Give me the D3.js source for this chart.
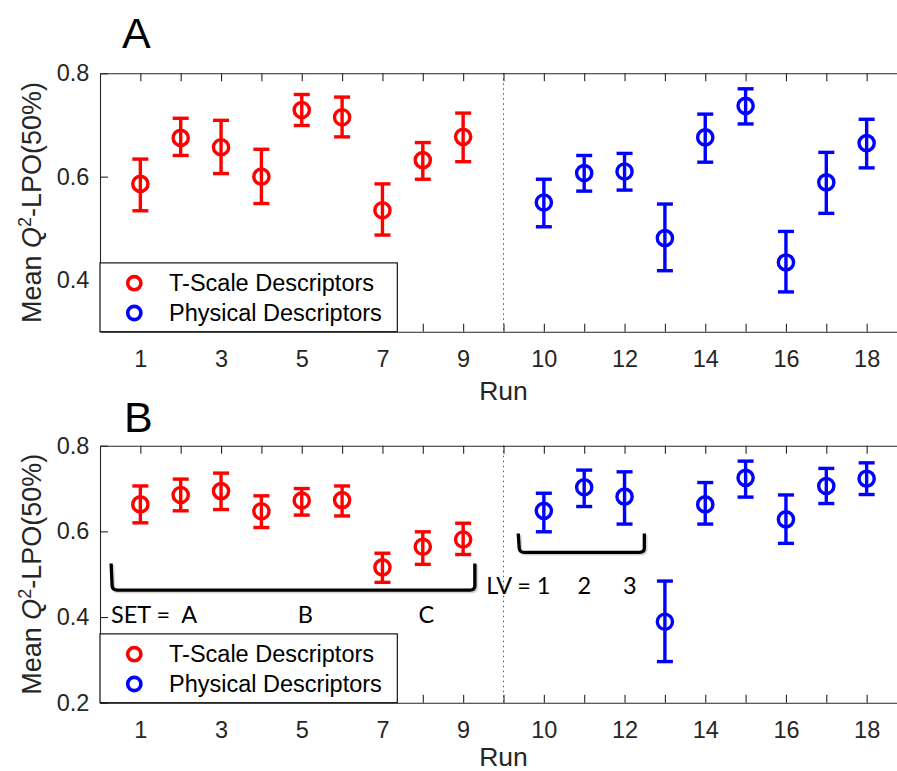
<!DOCTYPE html>
<html>
<head>
<meta charset="utf-8">
<script src="https://cdn.jsdelivr.net/npm/d3@7"></script>
<style>
  body { margin: 0; background: #fff; }
  svg { display: block; font-family: "Liberation Sans", Arial, sans-serif; }
</style>
</head>
<body>
<div id="app"></div>
<script>
// runs 1-9 use T-scale descriptors, runs 10-18 physical descriptors
const redRuns = [1, 2, 3, 4, 5, 6, 7, 8, 9];
const blueRuns = [10, 11, 12, 13, 14, 15, 16, 17, 18];

// axis slots: one empty slot between run 9 and run 10
const tickPos = d3.range(1, 20);
const tickLabels = ['1', '', '3', '', '5', '', '7', '', '9', '', '10', '', '12', '', '14', '', '16', '', '18'];

// panel A
const aRedMean = [0.586, 0.675, 0.657, 0.600, 0.729, 0.715, 0.535, 0.632, 0.677];
const aRedLo   = [0.534, 0.641, 0.606, 0.548, 0.699, 0.677, 0.487, 0.595, 0.629];
const aRedHi   = [0.634, 0.713, 0.709, 0.653, 0.759, 0.754, 0.586, 0.666, 0.723];
const aBlueMean = [0.550, 0.607, 0.610, 0.481, 0.676, 0.737, 0.434, 0.589, 0.665];
const aBlueLo   = [0.503, 0.572, 0.574, 0.418, 0.628, 0.702, 0.377, 0.529, 0.617];
const aBlueHi   = [0.595, 0.641, 0.645, 0.547, 0.721, 0.770, 0.494, 0.647, 0.711];

// panel B
const bRedMean = [0.663, 0.685, 0.694, 0.647, 0.672, 0.673, 0.516, 0.564, 0.581];
const bRedLo   = [0.620, 0.648, 0.651, 0.609, 0.638, 0.636, 0.481, 0.523, 0.546];
const bRedHi   = [0.706, 0.722, 0.736, 0.683, 0.700, 0.706, 0.549, 0.599, 0.619];
const bBlueMean = [0.648, 0.703, 0.681, 0.389, 0.663, 0.725, 0.628, 0.706, 0.723];
const bBlueLo   = [0.599, 0.658, 0.617, 0.296, 0.617, 0.680, 0.572, 0.665, 0.686];
const bBlueHi   = [0.689, 0.743, 0.739, 0.484, 0.714, 0.764, 0.685, 0.747, 0.760];

const legendLabels = ['T-Scale Descriptors', 'Physical Descriptors'];
const colors = ['#ff0000', '#0000ff'];

const w = 897;
const h = 771;
const axisColor = '#262626';

const svg = d3.select('#app')
  .append('svg')
  .attr('width', w)
  .attr('height', h);

const slot = (run) => run <= 9 ? run : run + 1;

function drawPanel(opt) {
  const x = d3.scaleLinear().domain([0, 20]).range([100, 907]);
  const y = d3.scaleLinear().domain(opt.yDomain).range([opt.bottom, opt.top]);
  const g = svg.append('g');

  // dotted divider between the two descriptor sets
  g.append('line')
    .attr('x1', x(10)).attr('x2', x(10))
    .attr('y1', opt.top).attr('y2', opt.bottom)
    .attr('stroke', '#555')
    .attr('stroke-width', 1)
    .attr('stroke-dasharray', '1.5,3.5');

  const xb = g.append('g')
    .attr('transform', 'translate(0,' + opt.bottom + ')')
    .call(d3.axisBottom(x).tickValues(tickPos).tickFormat((d, i) => tickLabels[i])
      .tickSizeInner(-8).tickSizeOuter(0).tickPadding(18.3));
  const xt = g.append('g')
    .attr('transform', 'translate(0,' + opt.top + ')')
    .call(d3.axisTop(x).tickValues(tickPos).tickFormat('')
      .tickSizeInner(-8).tickSizeOuter(0));
  const yl = g.append('g')
    .attr('transform', 'translate(100,0)')
    .call(d3.axisLeft(y).tickValues(opt.yTicks).tickFormat(d3.format('.1f'))
      .tickSizeInner(-8).tickSizeOuter(0).tickPadding(10.7));
  const yr = g.append('g')
    .attr('transform', 'translate(907,0)')
    .call(d3.axisRight(y).tickValues(opt.yTicks).tickFormat('')
      .tickSizeInner(-8).tickSizeOuter(0));

  [xb, xt, yl, yr].forEach((a) => {
    a.selectAll('path, line').attr('stroke', axisColor).attr('stroke-width', 1.1);
    a.selectAll('text').attr('fill', axisColor).style('font-size', '23.5px')
      .style('font-family', '"Liberation Sans", Arial, sans-serif');
  });

  // error bars + circles
  const series = [
    { runs: redRuns, mean: opt.redMean, lo: opt.redLo, hi: opt.redHi, color: colors[0] },
    { runs: blueRuns, mean: opt.blueMean, lo: opt.blueLo, hi: opt.blueHi, color: colors[1] }
  ];
  series.forEach((s) => {
    const pts = s.runs.map((r, i) => ({ run: r, m: s.mean[i], lo: s.lo[i], hi: s.hi[i] }));
    const eg = g.append('g').attr('stroke', s.color).attr('stroke-width', 3.4).attr('fill', 'none');
    eg.selectAll('.bar').data(pts).join('line')
      .attr('x1', (d) => x(slot(d.run))).attr('x2', (d) => x(slot(d.run)))
      .attr('y1', (d) => y(d.lo)).attr('y2', (d) => y(d.hi));
    eg.selectAll('.capHi').data(pts).join('line')
      .attr('x1', (d) => x(slot(d.run)) - 8).attr('x2', (d) => x(slot(d.run)) + 8)
      .attr('y1', (d) => y(d.hi)).attr('y2', (d) => y(d.hi));
    eg.selectAll('.capLo').data(pts).join('line')
      .attr('x1', (d) => x(slot(d.run)) - 8).attr('x2', (d) => x(slot(d.run)) + 8)
      .attr('y1', (d) => y(d.lo)).attr('y2', (d) => y(d.lo));
    eg.selectAll('circle').data(pts).join('circle')
      .attr('cx', (d) => x(slot(d.run)))
      .attr('cy', (d) => y(d.m))
      .attr('r', 7.6)
      .attr('stroke-width', 3.4);
  });

  // legend
  const lg = g.append('g');
  lg.append('rect')
    .attr('x', 100).attr('y', opt.bottom - 68.8)
    .attr('width', 297.3).attr('height', 68.8)
    .attr('fill', '#fff').attr('stroke', '#000').attr('stroke-width', 1.1);
  legendLabels.forEach((t, i) => {
    const cy = opt.bottom - 48.5 + i * 29.8;
    lg.append('circle')
      .attr('cx', 134.3).attr('cy', cy).attr('r', 6.6)
      .attr('fill', 'none').attr('stroke', colors[i]).attr('stroke-width', 3.6);
    lg.append('text')
      .attr('x', 169).attr('y', cy).attr('dy', '0.35em')
      .style('font-size', '23.5px').attr('fill', '#000')
      .text(t);
  });

  // axis titles
  g.append('text')
    .attr('x', x(10)).attr('y', opt.bottom + opt.runGap)
    .attr('text-anchor', 'middle')
    .attr('fill', axisColor)
    .style('font-size', '26.5px')
    .text('Run');

  const yt = g.append('text')
    .attr('transform', 'translate(41,' + ((opt.top + opt.bottom) / 2) + ') rotate(-90)')
    .attr('text-anchor', 'middle')
    .attr('fill', axisColor)
    .style('font-size', '27px');
  yt.append('tspan').text('Mean ');
  yt.append('tspan').style('font-style', 'italic').text('Q');
  yt.append('tspan').attr('dy', -10).style('font-size', '18px').text('2');
  yt.append('tspan').attr('dy', 10).text('-LPO(50%)');

  g.append('text')
    .attr('x', opt.letterX).attr('y', opt.top - opt.letterGap)
    .style('font-size', '43px').attr('fill', '#000')
    .text(opt.letter);

  return { x, y, g };
}

drawPanel({
  letter: 'A', letterX: 122, letterGap: 25.6, runGap: 68,
  top: 73.3, bottom: 331.7, yDomain: [0.3, 0.8], yTicks: [0.4, 0.6, 0.8],
  redMean: aRedMean, redLo: aRedLo, redHi: aRedHi,
  blueMean: aBlueMean, blueLo: aBlueLo, blueHi: aBlueHi
});

const pB = drawPanel({
  letter: 'B', letterX: 124, letterGap: 14, runGap: 63,
  top: 445.7, bottom: 702.7, yDomain: [0.2, 0.8], yTicks: [0.2, 0.4, 0.6, 0.8],
  redMean: bRedMean, redLo: bRedLo, redHi: bRedHi,
  blueMean: bBlueMean, blueLo: bBlueLo, blueHi: bBlueHi
});

// hand-drawn brackets and notes on panel B
const bx = pB.x, by = pB.y;
function bracket(x0, x1, yTop, yBot) {
  const p = d3.path();
  p.moveTo(bx(x0) - 1, by(yTop));
  p.lineTo(bx(x0), by(yBot) - 4);
  p.quadraticCurveTo(bx(x0) + 0.5, by(yBot), bx(x0) + 5, by(yBot));
  p.lineTo(bx(x1) - 5, by(yBot));
  p.quadraticCurveTo(bx(x1), by(yBot), bx(x1), by(yBot) - 4);
  p.lineTo(bx(x1), by(yTop));
  return p.toString();
}
[[0.30, 9.29, 0.525, 0.463], [10.39, 13.49, 0.595, 0.551]].forEach((b) => {
  pB.g.append('path').attr('d', bracket(...b))
    .attr('transform', 'translate(1.5,1.5)')
    .attr('fill', 'none').attr('stroke', '#aaa').attr('stroke-width', 3.5).attr('opacity', 0.5);
  pB.g.append('path').attr('d', bracket(...b))
    .attr('fill', 'none').attr('stroke', '#000').attr('stroke-width', 3.3)
    .attr('stroke-linejoin', 'round');
});

const noteFont = 'Lato, "Open Sans", sans-serif';
pB.g.append('text').attr('x', bx(0.27)).attr('y', by(0.385))
  .style('font-family', noteFont).style('font-size', '23.5px').style('white-space', 'pre')
  .text('SET =  A');
[['B', 5.09], ['C', 8.09]].forEach(([t, p]) => {
  pB.g.append('text').attr('x', bx(p)).attr('y', by(0.385)).attr('text-anchor', 'middle')
    .style('font-family', noteFont).style('font-size', '23.5px').text(t);
});
pB.g.append('text').attr('x', bx(9.57)).attr('y', by(0.454))
  .style('font-family', noteFont).style('font-size', '23.5px').style('white-space', 'pre')
  .text('LV = 1');
[['2', 12.0], ['3', 13.13]].forEach(([t, p]) => {
  pB.g.append('text').attr('x', bx(p)).attr('y', by(0.454)).attr('text-anchor', 'middle')
    .style('font-family', noteFont).style('font-size', '23.5px').text(t);
});
</script>
</body>
</html>
